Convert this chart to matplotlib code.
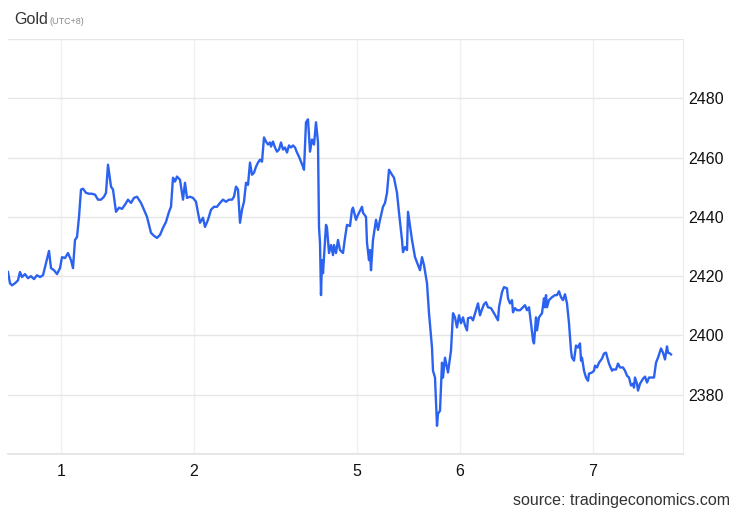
import matplotlib
matplotlib.use("Agg")
import matplotlib.pyplot as plt

plt.rcParams['font.family'] = ['Liberation Sans', 'DejaVu Sans']

# time index (arbitrary intraday units) and gold price
t = [0, 2, 4, 7, 10, 12, 14, 17, 20, 23, 26, 29, 32, 35, 38, 41, 43, 46, 49, 52,
     54, 57, 60, 63, 65, 67, 69, 71, 73, 75, 78, 81, 84, 87, 90, 93, 96, 98, 100, 103,
     105, 108, 111, 114, 117, 120, 123, 126, 129, 133, 136, 139, 141, 143, 146, 149, 152, 155, 158, 161,
     163, 165, 167, 169, 172, 175, 177, 179, 182, 185, 188, 190, 192, 195, 197, 200, 203, 206, 209, 212,
     215, 218, 221, 224, 226, 228, 230, 232, 234, 236, 238, 240, 242, 244, 246, 248, 250, 252, 254, 256,
     258, 260, 262, 263, 265, 267, 269, 271, 273, 275, 277, 279, 281, 283, 285, 287, 289, 291, 293, 295,
     296, 298, 300, 302, 304, 306, 308, 310, 311, 312, 313, 314, 315, 318, 319, 321, 323, 325, 326, 328,
     330, 332, 335, 337, 339, 342, 344, 345, 348, 350, 354, 355, 358, 359, 361, 362, 363, 365, 368, 370,
     372, 375, 377, 379, 381, 384, 386, 389, 391, 394, 395, 397, 399, 400, 404, 407, 410, 412, 414, 416,
     419, 421, 424, 425, 427, 429, 430, 432, 434, 435, 437, 438, 440, 443, 445, 447, 449, 451, 453, 455,
     457, 459, 460, 463, 465, 468, 470, 472, 474, 476, 478, 480, 483, 486, 490, 491, 494, 496, 499, 500,
     502, 504, 505, 507, 509, 512, 515, 517, 519, 521, 523, 525, 526, 528, 529, 531, 534, 536, 537, 538,
     539, 541, 544, 547, 549, 551, 553, 555, 557, 559, 561, 563, 564, 566, 568, 570, 572, 573, 574, 576,
     578, 580, 581, 584, 586, 587, 589, 591, 594, 596, 598, 599, 601, 604, 605, 608, 610, 612, 615, 617,
     619, 621, 623, 625, 626, 627, 629, 630, 632, 635, 637, 639, 641, 644, 646, 648, 650, 653, 655, 657,
     659, 660, 662, 663]

price = [2421.4, 2417.6, 2416.9, 2417.6, 2418.6, 2421.4, 2419.7, 2420.7, 2419.3, 2420.0,
         2419.0, 2420.3, 2419.7, 2420.3, 2424.4, 2428.5, 2422.7, 2422.0, 2420.7, 2422.7,
         2426.4, 2426.1, 2427.8, 2425.4, 2422.7, 2432.2, 2433.2, 2440.0, 2449.2, 2449.5,
         2448.1, 2447.8, 2447.8, 2447.5, 2445.8, 2445.8, 2446.8, 2448.1, 2457.6, 2450.2,
         2449.2, 2441.7, 2443.1, 2442.7, 2444.1, 2445.8, 2444.7, 2446.4, 2446.8, 2444.7,
         2442.4, 2440.0, 2437.3, 2434.6, 2433.6, 2432.9, 2433.9, 2436.3, 2438.3, 2441.7,
         2443.4, 2453.2, 2451.9, 2453.6, 2452.5, 2445.8, 2451.5, 2446.4, 2446.8, 2446.4,
         2445.1, 2441.4, 2438.0, 2439.7, 2436.6, 2439.0, 2442.4, 2443.4, 2443.4, 2444.7,
         2445.8, 2445.1, 2445.8, 2445.8, 2446.8, 2450.2, 2449.2, 2438.0, 2442.4, 2445.1,
         2451.5, 2450.8, 2458.3, 2454.2, 2454.9, 2456.9, 2458.3, 2459.3, 2458.6, 2466.8,
         2465.4, 2464.4, 2465.1, 2463.7, 2465.4, 2463.4, 2462.0, 2462.7, 2465.1, 2462.7,
         2463.4, 2461.7, 2464.1, 2463.4, 2464.1, 2463.4, 2461.7, 2460.3, 2458.6, 2456.9,
         2455.9, 2471.9, 2472.9, 2462.0, 2466.1, 2464.4, 2471.9, 2465.1, 2436.6, 2431.2,
         2413.6, 2425.4, 2421.0, 2437.3, 2436.3, 2427.8, 2430.5, 2427.1, 2430.5, 2427.8,
         2432.2, 2428.8, 2427.8, 2432.9, 2437.3, 2436.9, 2442.4, 2443.1, 2439.0, 2440.7,
         2443.4, 2441.4, 2440.0, 2431.2, 2425.4, 2428.8, 2422.0, 2432.2, 2439.0, 2435.6,
         2439.0, 2443.4, 2444.7, 2448.1, 2455.9, 2454.2, 2453.2, 2448.1, 2441.4, 2432.2,
         2428.1, 2429.8, 2428.8, 2441.7, 2432.2, 2426.4, 2423.7, 2422.0, 2426.4, 2423.7,
         2417.6, 2407.5, 2395.9, 2388.1, 2385.8, 2369.5, 2373.6, 2374.6, 2390.8, 2385.8,
         2392.5, 2390.8, 2387.5, 2394.9, 2407.5, 2406.1, 2402.7, 2406.8, 2404.1, 2406.1,
         2403.4, 2401.7, 2405.8, 2406.1, 2405.1, 2408.5, 2410.8, 2406.8, 2408.8, 2410.5,
         2411.2, 2409.5, 2409.2, 2407.5, 2405.1, 2409.5, 2414.6, 2416.3, 2415.9, 2412.5,
         2410.8, 2411.9, 2407.8, 2409.2, 2408.5, 2408.5, 2409.5, 2410.2, 2408.5, 2409.5,
         2404.1, 2398.3, 2397.3, 2406.1, 2401.7, 2406.1, 2407.5, 2412.5, 2409.5, 2413.6,
         2409.5, 2411.9, 2412.9, 2413.6, 2413.6, 2414.9, 2412.9, 2411.9, 2413.9, 2410.8,
         2404.1, 2394.9, 2392.5, 2391.5, 2396.6, 2395.9, 2397.3, 2391.5, 2392.5, 2388.1,
         2385.8, 2384.7, 2387.1, 2387.5, 2388.1, 2389.8, 2389.2, 2390.8, 2392.2, 2393.9,
         2394.2, 2392.9, 2390.5, 2388.1, 2388.5, 2388.5, 2390.5, 2389.2, 2389.2, 2388.1,
         2386.4, 2385.8, 2383.1, 2383.7, 2382.4, 2385.8, 2383.7, 2381.4, 2383.7, 2385.4,
         2386.1, 2384.1, 2385.8, 2385.8, 2385.8, 2390.8, 2392.5, 2395.6, 2394.2, 2391.9,
         2396.3, 2394.2, 2393.9, 2393.6]

x_tick_pos = [53, 186, 349, 452, 585]
x_tick_labels = ["1", "2", "5", "6", "7"]
y_ticks = [2380, 2400, 2420, 2440, 2460, 2480]

fig = plt.figure(figsize=(7.40, 5.13), dpi=100)
ax = fig.add_axes([8 / 740, 59 / 513, 675 / 740, 415 / 513])

ax.plot(t, price, color="#2b62f0", linewidth=1.7, solid_joinstyle="round")

ax.set_xlim(0, 675)
ax.set_ylim(2360, 2500)

ax.set_xticks(x_tick_pos)
ax.set_xticklabels(x_tick_labels)
ax.set_yticks(y_ticks + [2500])
ax.set_yticklabels([str(v) for v in y_ticks] + [""])
ax.yaxis.tick_right()
ax.tick_params(axis="both", length=0, labelsize=11.5, colors="#111111")
ax.tick_params(axis="y", pad=4)
ax.tick_params(axis="x", pad=7)

ax.grid(True, axis="y", color="#e6e6e6", linewidth=1.0)
ax.grid(True, axis="x", color="#f0f0f0", linewidth=1.0)
ax.set_axisbelow(True)

for s in ["left", "top"]:
    ax.spines[s].set_visible(False)
ax.spines["right"].set_color("#ececec")
ax.spines["bottom"].set_color("#e2e2e2")
ax.spines["bottom"].set_linewidth(1.2)

fig.text(14 / 740, 1 - 20 / 513, "Gold", fontsize=11.5, color="#333333", va="center", ha="left")
fig.text(49 / 740, 1 - 21 / 513, "(UTC+8)", fontsize=6.5, color="#888888", va="center", ha="left")
fig.text(730 / 740, 1 - 500 / 513, "source: tradingeconomics.com", fontsize=11.5,
         color="#333333", va="center", ha="right")

fig.savefig("out.png", dpi=100, facecolor="white")
